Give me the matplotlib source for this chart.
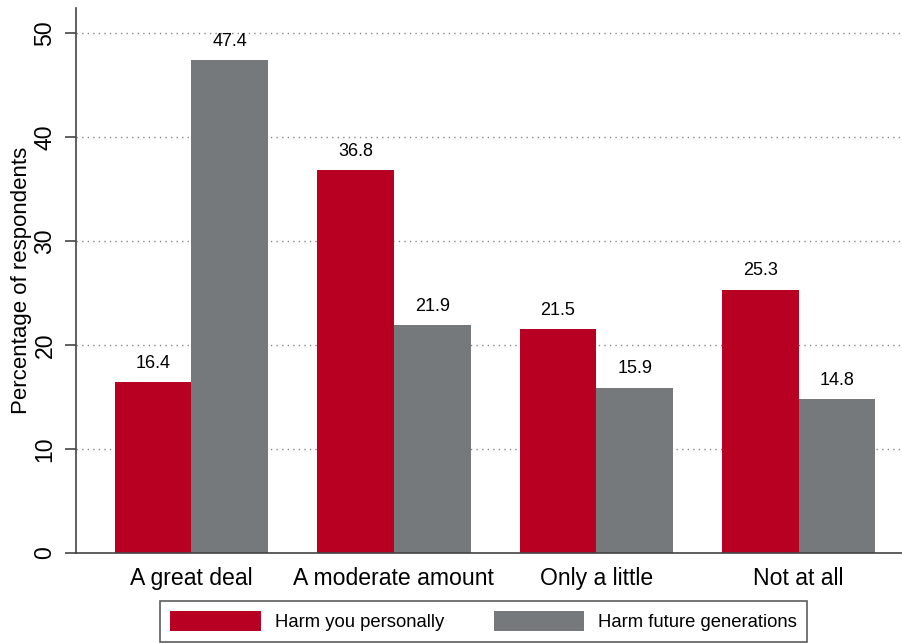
import matplotlib
matplotlib.use('Agg')
import matplotlib.pyplot as plt
import numpy as np

plt.rcParams['font.family'] = ['Liberation Sans', 'DejaVu Sans']

categories = ['A great deal', 'A moderate amount', 'Only a little', 'Not at all']
personal = [16.4, 36.8, 21.5, 25.3]
future = [47.4, 21.9, 15.9, 14.8]
series_names = ['Harm you personally', 'Harm future generations']
yticks = [0, 10, 20, 30, 40, 50]

red = '#B70022'
grey = '#75797C'

fig = plt.figure(figsize=(9.02, 6.43), dpi=100)
# axes placed in pixel terms: left 76, right ~905, bottom 553, top 8
ax = fig.add_axes([76 / 902, 1 - 553 / 643, 830 / 902, 545 / 643])

x = np.arange(len(categories))
w = 0.379
b1 = ax.bar(x - w / 2, personal, w, color=red, label=series_names[0])
b2 = ax.bar(x + w / 2, future, w, color=grey, label=series_names[1])

for bars, vals in ((b1, personal), (b2, future)):
    for r, v in zip(bars, vals):
        ax.text(r.get_x() + r.get_width() / 2, v + 1.0, f'{v:.1f}',
                ha='center', va='bottom', fontsize=13)

ax.set_xlim(-0.57, 3.53)
ax.set_ylim(0, 52.4)
ax.set_yticks(yticks)
ax.set_yticklabels([str(t) for t in yticks], rotation=90, va='center', fontsize=16.6)
ax.set_xticks(x)
ax.set_xticklabels(categories, fontsize=16.6)
ax.tick_params(axis='x', length=0, pad=10)
ax.tick_params(axis='y', length=8, width=1.2, color='#444444', pad=6)
ax.set_ylabel('Percentage of respondents', fontsize=16, labelpad=1)

ax.set_axisbelow(True)
ax.yaxis.grid(True, linestyle=(0, (1, 3)), color='#888888', linewidth=1)
for s in ('top', 'right'):
    ax.spines[s].set_visible(False)
ax.spines['left'].set_color('#444444')
ax.spines['left'].set_linewidth(1.2)
ax.spines['bottom'].set_color('#444444')
ax.spines['bottom'].set_linewidth(1.2)

leg = fig.legend(handles=[b1, b2], loc='upper left',
                 bbox_to_anchor=(160 / 902, 1 - 601 / 643),
                 ncol=2, frameon=True, fancybox=False, edgecolor='#333333',
                 fontsize=13.3, handlelength=4.9, handleheight=1.3,
                 handletextpad=0.75, columnspacing=2.7,
                 borderpad=0.55, borderaxespad=0)
leg.get_frame().set_linewidth(1.2)

fig.savefig('out.png', dpi=100)
